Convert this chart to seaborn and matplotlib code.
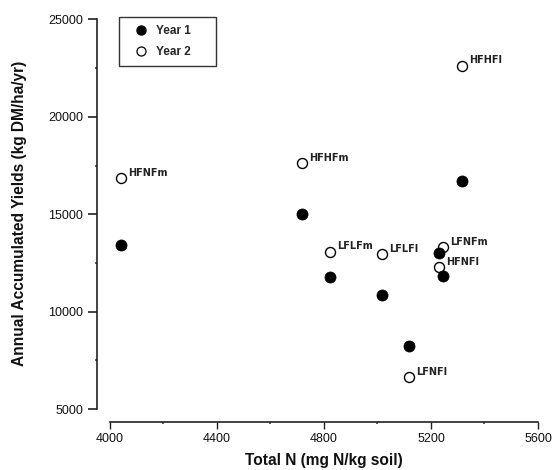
import matplotlib
matplotlib.use("Agg")
import matplotlib.pyplot as plt
from matplotlib.ticker import MultipleLocator
from matplotlib.lines import Line2D
import seaborn as sns
import pandas as pd

# Treatments, total soil N and annual yields for the two years
treatments = ["HFNFm", "HFHFm", "HFHFl", "LFLFm", "LFLFl", "LFNFm", "HFNFl", "LFNFl"]
total_n = [4041, 4719, 5315, 4822, 5016, 5244, 5229, 5119]
yield_year1 = [13420, 15000, 16707, 11777, 10853, 11829, 12994, 8250]
yield_year2 = [16845, 17616, 22628, 13077, 12943, 13302, 12275, 6627]

df1 = pd.DataFrame({"N": total_n, "Y": yield_year1, "T": treatments})
df2 = pd.DataFrame({"N": total_n, "Y": yield_year2, "T": treatments})

sns.set_style("ticks")
plt.rcParams["font.family"] = ["Liberation Sans", "DejaVu Sans"]

fig = plt.figure(figsize=(5.55, 4.70), dpi=100)
W, H = 555, 470
ax = fig.add_axes([96.5 / W, 1 - 422 / H, (538 - 96.5) / W, (422 - 12) / H])

sns.scatterplot(data=df2, x="N", y="Y", ax=ax, s=52, facecolor="white",
                edgecolor="black", linewidth=1.0, zorder=3, clip_on=False,
                legend=False)
sns.scatterplot(data=df1, x="N", y="Y", ax=ax, s=64, color="black",
                edgecolor="black", linewidth=0.5, zorder=4, clip_on=False,
                legend=False)

for t, xv, yv in zip(treatments, total_n, yield_year2):
    ax.annotate(t, (xv, yv), xytext=(5, 2), textcoords="offset points",
                ha="left", va="baseline", fontsize=7, fontweight="bold",
                family="DejaVu Sans", color="#222222")

ax.set_xlim(3950, 5600)
ax.set_ylim(4333, 25385)
ax.spines["left"].set_bounds(5000, 25000)
ax.spines["bottom"].set_bounds(4000, 5600)
sns.despine(ax=ax)
for sp in ("left", "bottom"):
    ax.spines[sp].set_linewidth(1.2)
    ax.spines[sp].set_color("#222222")

ax.set_xticks([4000, 4400, 4800, 5200, 5600])
ax.set_yticks([5000, 10000, 15000, 20000, 25000])
ax.xaxis.set_minor_locator(MultipleLocator(200))
ax.yaxis.set_minor_locator(MultipleLocator(2500))
ax.tick_params(axis="y", which="major", length=6.5, width=1.2, pad=3,
               labelsize=9, colors="#222222")
ax.tick_params(axis="x", which="major", length=5, width=1.0, pad=3,
               labelsize=9, colors="#222222")
ax.tick_params(which="minor", length=1.5, width=1.2, colors="#444444")
for lbl in ax.get_xticklabels() + ax.get_yticklabels():
    lbl.set_color("#111111")

ax.set_xlabel("Total N (mg N/kg soil)", fontsize=11.2, fontweight="bold",
              color="#111111")
ax.set_ylabel("Annual Accumulated Yields (kg DM/ha/yr)", fontsize=11.2,
              fontweight="bold", color="#111111")
ax.xaxis.set_label_coords((324 - 96.5) / (538 - 96.5), -0.075)
ax.yaxis.set_label_coords(-0.158, (422 - 213.5) / 410)

handles = [
    Line2D([], [], marker="o", linestyle="", markerfacecolor="black",
           markeredgecolor="black", markersize=6.5),
    Line2D([], [], marker="o", linestyle="", markerfacecolor="white",
           markeredgecolor="black", markeredgewidth=0.9, markersize=6.5),
]
leg = ax.legend(handles, ["Year 1     ", "Year 2     "], loc="upper left",
                bbox_to_anchor=(119 / W, 1 - 17 / H),
                bbox_transform=fig.transFigure, borderaxespad=0,
                frameon=True, fancybox=False, edgecolor="black",
                prop={"size": 8.5, "weight": "bold"}, handletextpad=0.15,
                borderpad=0.7, labelspacing=0.75, handlelength=2.3)
leg.get_frame().set_linewidth(1.0)

fig.savefig("out.png", dpi=100)
